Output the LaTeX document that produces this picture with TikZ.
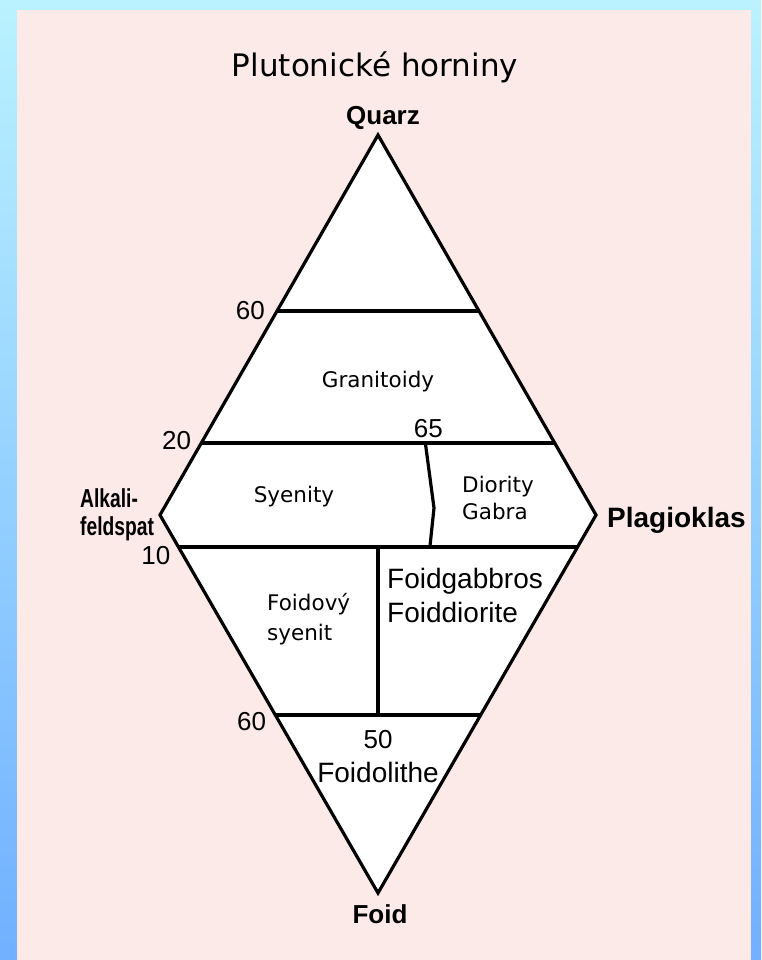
\documentclass[tikz,border=0pt]{standalone}
\usepackage{fontspec}
\setmainfont{Liberation Sans}
\newfontfamily\tahoma{DejaVu Sans}
\newfontfamily\narrowsans[FakeStretch=0.74]{Liberation Sans}
\usetikzlibrary{calc}
\definecolor{frametop}{RGB}{186,242,255}
\definecolor{framebot}{RGB}{112,176,255}
\definecolor{paper}{RGB}{252,234,232}

\begin{document}
\begin{tikzpicture}[x=1pt, y=-1pt, line join=miter,
    field/.style={line width=3.2pt},
    apex/.style={font=\fontsize{26}{30}\selectfont\bfseries, inner sep=0},
    num/.style={font=\fontsize{26}{30}\selectfont, inner sep=0},
    rock/.style={font=\tahoma\fontsize{21.5}{27}\selectfont, inner sep=0, align=left},
    rockb/.style={font=\fontsize{28}{34}\selectfont, inner sep=0, align=left}]
    \useasboundingbox (0,0) rectangle (761,960);

    % Slide frame and paper
    \shade[top color=frametop, bottom color=framebot] (0,0) rectangle (761,960);
    \fill[paper] (17,10) rectangle (751,960);

    % Corners of the QAPF diamond
    \coordinate (Q) at (378,135);
    \coordinate (A) at (160,515);
    \coordinate (P) at (596,515);
    \coordinate (F) at (378,893);

    % Field boundaries
    \coordinate (q60l) at ($(Q)!0.4632!(A)$);
    \coordinate (q60r) at ($(Q)!0.4632!(P)$);
    \coordinate (q20l) at ($(Q)!0.8105!(A)$);
    \coordinate (q20r) at ($(Q)!0.8105!(P)$);
    \coordinate (f10l) at ($(A)!0.0847!(F)$);
    \coordinate (f10r) at ($(P)!0.0847!(F)$);
    \coordinate (f60l) at ($(A)!0.5291!(F)$);
    \coordinate (f60r) at ($(P)!0.5291!(F)$);
    \coordinate (k1) at ($(q20l)!0.634!(q20r)$);
    \coordinate (k2) at (434,508);
    \coordinate (k3) at ($(f10l)!0.63!(f10r)$);
    \coordinate (m10) at ($(f10l)!0.5!(f10r)$);
    \coordinate (m60) at ($(f60l)!0.5!(f60r)$);

    \draw[field, fill=white] (Q) -- (A) -- (F) -- (P) -- cycle;
    \draw[field] (q60l) -- (q60r);
    \draw[field] (q20l) -- (q20r);
    \draw[field] (f10l) -- (f10r);
    \draw[field] (f60l) -- (f60r);
    \draw[field] (k1) -- (k2) -- (k3);
    \draw[field] (m10) -- (m60);

    % Title and corner labels
    \node[font=\tahoma\fontsize{31}{36}\selectfont, anchor=base] (title) at (375,77) {Plutonické horniny};
    \node[apex, anchor=base] (quarz) at (383,125) {Quarz};
    \node[apex, anchor=base] (foid) at (380,923) {Foid};
    \node[apex, font=\fontsize{28}{30}\selectfont\bfseries, anchor=base west] (plag) at (607,527) {Plagioklas};
    \node[apex, font=\narrowsans\fontsize{26}{28}\selectfont\bfseries, anchor=north west, align=left] (alk) at (80,488) {Alkali-\\feldspat};

    % Boundary values
    \node[num, anchor=base east] (n60a) at ($(q60l)+(-12,8)$) {60};
    \node[num, anchor=base east] (n20) at ($(q20l)+(-10,7)$) {20};
    \node[num, anchor=base east] (n10) at ($(f10l)+(-8,17)$) {10};
    \node[num, anchor=base east] (n60b) at ($(f60l)+(-9,15)$) {60};
    \node[num, anchor=base] (n65) at ($(k1)+(3,-5)$) {65};
    \node[num, anchor=base] (n50) at ($(m60)+(0,33)$) {50};

    % Rock fields
    \node[rock, anchor=base] (gran) at (378,387) {Granitoidy};
    \node[rock, anchor=base] (syen) at (294,502) {Syenity};
    \node[rock, anchor=north west] (dior) at (462,476) {Diority\\Gabra};
    \node[rock, font=\tahoma\fontsize{21.5}{30}\selectfont, anchor=north west] (fsyen) at (267,593) {Foidový\\syenit};
    \node[rockb, anchor=north west] (fgab) at (387,568) {Foidgabbros\\Foiddiorite};
    \node[rockb, anchor=base] (folith) at (378,782) {Foidolithe};
\end{tikzpicture}
\end{document}
